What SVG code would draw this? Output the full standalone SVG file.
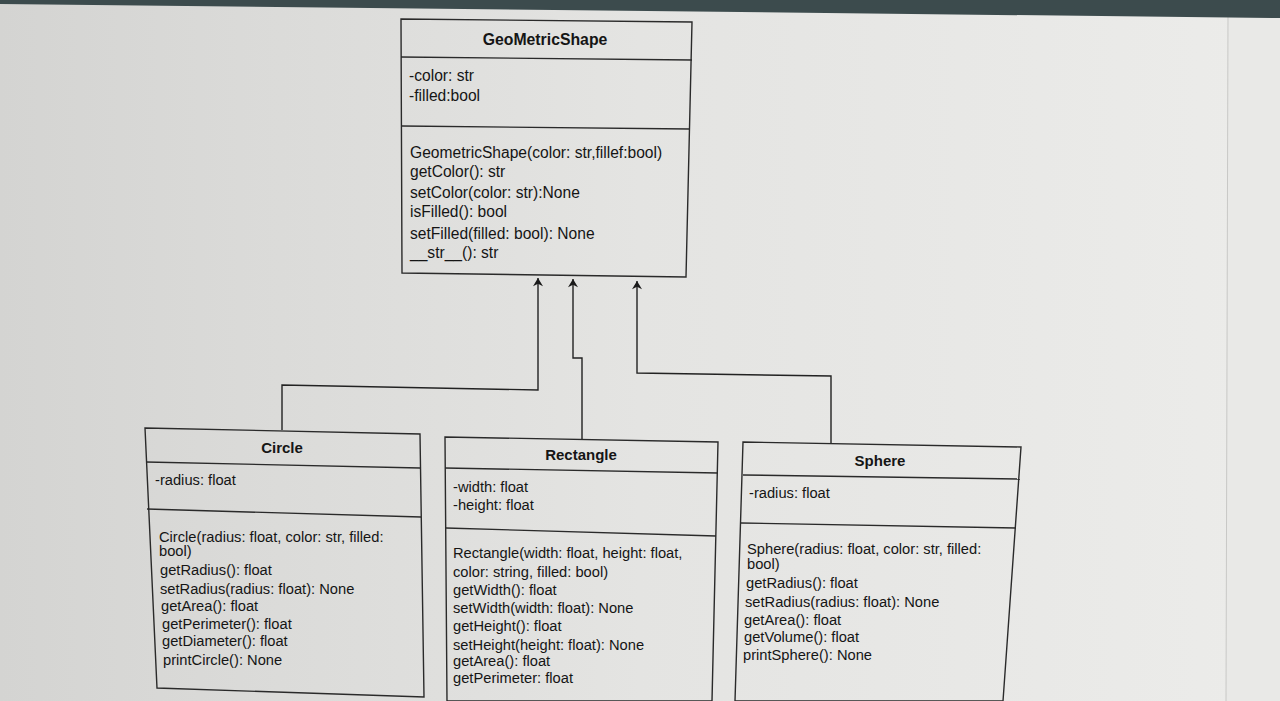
<svg xmlns="http://www.w3.org/2000/svg" width="1280" height="701" viewBox="0 0 1280 701">
<defs>
<linearGradient id="bg" x1="0" y1="0" x2="1" y2="0">
<stop offset="0" stop-color="#d4d4d2"/>
<stop offset="0.5" stop-color="#e4e4e2"/>
<stop offset="1" stop-color="#ececea"/>
</linearGradient>
<marker id="arr" viewBox="0 0 10 12" refX="10" refY="6" markerWidth="12" markerHeight="10" markerUnits="userSpaceOnUse" orient="auto">
<path d="M0,0 L10,6 L0,12 L3,6 Z" fill="#1a1a1a"/>
</marker>
<style>
.box{fill:none;stroke:#2a2a2a;stroke-width:1.4}
.sep{fill:none;stroke:#2a2a2a;stroke-width:1.4}
.t{font-family:"Liberation Sans",Arial,sans-serif;font-size:14.7px;fill:#151515}
.tt{font-family:"Liberation Sans",Arial,sans-serif;font-size:15.6px;fill:#151515}
.h{font-family:"Liberation Sans",Arial,sans-serif;font-size:15px;font-weight:bold;fill:#151515;text-anchor:middle}
.c{fill:none;stroke:#222;stroke-width:1.4}
</style>
</defs>
<rect x="0" y="0" width="1280" height="701" fill="url(#bg)"/>
<polygon points="1228,0 1280,0 1280,701 1226,701" fill="#e9e9e7"/>
<line x1="1228" y1="12" x2="1226" y2="701" stroke="#c8c8c6" stroke-width="1"/>
<polygon points="0,0 1280,0 1280,18 0,4" fill="#3c4b4d"/>

<g id="GeoMetricShape">
<polygon class="box" points="401,19 692,22 686,277 402,273"/>
<line class="sep" x1="401" y1="57" x2="692" y2="60"/>
<line class="sep" x1="402" y1="126" x2="690" y2="129"/>
<text class="h" x="545" y="45" style="font-size:15.8px">GeoMetricShape</text>
<text class="tt" x="409" y="81">-color: str</text>
<text class="tt" x="409" y="101">-filled:bool</text>
<text class="tt" x="410" y="158">GeometricShape(color: str,fillef:bool)</text>
<text class="tt" x="410" y="177">getColor(): str</text>
<text class="tt" x="410" y="198">setColor(color: str):None</text>
<text class="tt" x="410" y="217">isFilled(): bool</text>
<text class="tt" x="410" y="239">setFilled(filled: bool): None</text>
<text class="tt" x="410" y="258">__str__(): str</text>
</g>

<g id="Circle">
<polygon class="box" points="145,428 420,434 424,697 157,688"/>
<line class="sep" x1="146" y1="462" x2="420" y2="468"/>
<line class="sep" x1="147" y1="509" x2="421" y2="517"/>
<text class="h" x="282" y="453">Circle</text>
<text class="t" x="155" y="485">-radius: float</text>
<text class="t" x="159" y="542">Circle(radius: float, color: str, filled:</text>
<text class="t" x="159" y="556">bool)</text>
<text class="t" x="160" y="575">getRadius(): float</text>
<text class="t" x="160" y="594">setRadius(radius: float): None</text>
<text class="t" x="161" y="611">getArea(): float</text>
<text class="t" x="162" y="629">getPerimeter(): float</text>
<text class="t" x="162" y="646">getDiameter(): float</text>
<text class="t" x="163" y="665">printCircle(): None</text>
</g>

<g id="Rectangle">
<polygon class="box" points="445,437 718,442 712,701 447,701"/>
<line class="sep" x1="445" y1="468" x2="718" y2="473"/>
<line class="sep" x1="446" y1="528" x2="716" y2="536"/>
<text class="h" x="581" y="460">Rectangle</text>
<text class="t" x="453" y="492">-width: float</text>
<text class="t" x="453" y="510">-height: float</text>
<text class="t" x="453" y="558">Rectangle(width: float, height: float,</text>
<text class="t" x="453" y="577">color: string, filled: bool)</text>
<text class="t" x="453" y="595">getWidth(): float</text>
<text class="t" x="453" y="613">setWidth(width: float): None</text>
<text class="t" x="453" y="631">getHeight(): float</text>
<text class="t" x="453" y="650">setHeight(height: float): None</text>
<text class="t" x="453" y="666">getArea(): float</text>
<text class="t" x="453" y="683">getPerimeter: float</text>
</g>

<g id="Sphere">
<polygon class="box" points="743,442 1021,447 1003,701 735,701"/>
<line class="sep" x1="743" y1="475" x2="1020" y2="479"/>
<line class="sep" x1="741" y1="523" x2="1016" y2="528"/>
<text class="h" x="880" y="466">Sphere</text>
<text class="t" x="749" y="498">-radius: float</text>
<text class="t" x="747" y="554">Sphere(radius: float, color: str, filled:</text>
<text class="t" x="747" y="569">bool)</text>
<text class="t" x="746" y="588">getRadius(): float</text>
<text class="t" x="745" y="607">setRadius(radius: float): None</text>
<text class="t" x="744" y="625">getArea(): float</text>
<text class="t" x="744" y="642">getVolume(): float</text>
<text class="t" x="743" y="660">printSphere(): None</text>
</g>

<g id="connectors">
<polyline class="c" points="282,430 282,385 538,390 538,278" marker-end="url(#arr)"/>
<polyline class="c" points="582,439 582,358 573,358 573,279" marker-end="url(#arr)"/>
<polyline class="c" points="831,443 831,376 637,373 637,281" marker-end="url(#arr)"/>
</g>
</svg>
